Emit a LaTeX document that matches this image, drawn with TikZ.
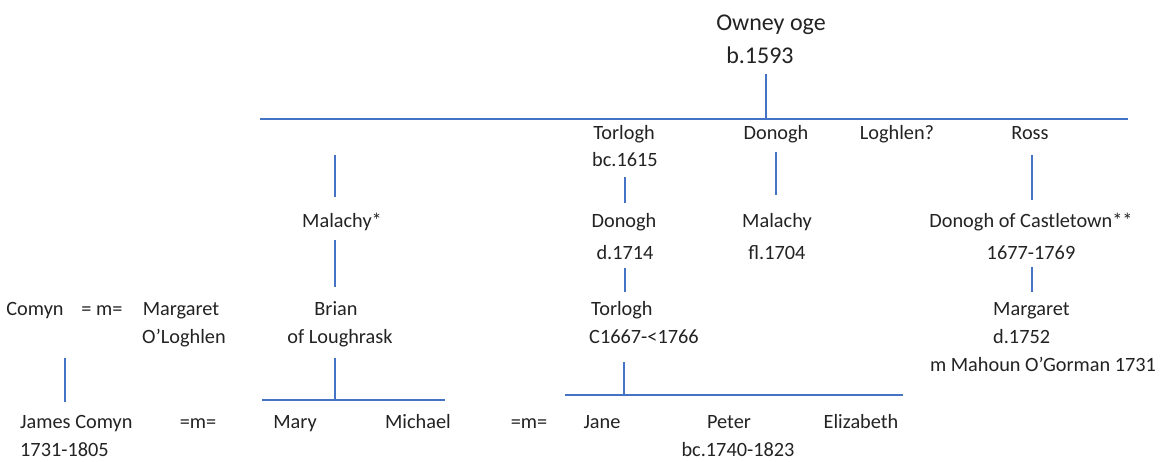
\documentclass[tikz,border=0pt]{standalone}
\usepackage{fontspec}
\setmainfont{Carlito}
\definecolor{linkblue}{RGB}{68,114,196}
\definecolor{txt}{RGB}{35,35,35}
\begin{document}
\begin{tikzpicture}[x=1pt,y=-1pt,
  lbl/.style={anchor=base,inner sep=0pt,text=txt,font=\fontsize{20.3}{23}\selectfont},
  lblL/.style={lbl,anchor=base west},
  big/.style={anchor=base,inner sep=0pt,text=txt,font=\fontsize{24}{28}\selectfont},
  link/.style={draw=linkblue,line width=1.1pt}]
\useasboundingbox[fill=white] (0,0) rectangle (1163,461);
% generation 1
\node[big] (owney) at (771,30) {Owney oge};
\node[big] (owneyb) at (760,63) {b.1593};
% generation 2
\node[lbl] (torlogh1) at (624,139) {Torlogh};
\node[lbl] (torlogh1b) at (625,166) {bc.1615};
\node[lbl] (donogh1) at (776,139) {Donogh};
\node[lbl] (loghlen) at (897,139) {Loghlen?};
\node[lbl] (ross) at (1030,139) {Ross};
% generation 3
\node[lbl] (malachy1) at (342,227) {Malachy*};
\node[lbl] (donogh2) at (624,227) {Donogh};
\node[lbl] (donogh2b) at (625,259) {d.1714};
\node[lbl] (malachy2) at (777,227) {Malachy};
\node[lbl] (malachy2b) at (777,259) {fl.1704};
\node[lbl] (castle) at (1031,227) {Donogh of Castletown**};
\node[lbl] (castleb) at (1031,259) {1677-1769};
% generation 4
\node[lbl] (comyn) at (35,315) {Comyn};
\node[lbl] (m1) at (102,315) {= m=};
\node[lbl] (marg1) at (181,315) {Margaret};
\node[lbl] (marg1b) at (184,343) {O’Loghlen};
\node[lbl] (brian) at (336,315) {Brian};
\node[lbl] (brianb) at (340,343) {of Loughrask};
\node[lblL] (torlogh2) at (591,315) {Torlogh};
\node[lblL] (torlogh2b) at (589,343) {C1667-<1766};
\node[lblL] (marg2) at (993,315) {Margaret};
\node[lblL] (marg2b) at (993,343) {d.1752};
\node[lbl] (marg2c) at (1043,371) {m Mahoun O’Gorman 1731};
% generation 5
\node[lblL] (james) at (20,428) {James Comyn};
\node[lblL] (jamesb) at (20,456) {1731-1805};
\node[lbl] (m2) at (198,428) {=m=};
\node[lbl] (mary) at (295,428) {Mary};
\node[lbl] (michael) at (418,428) {Michael};
\node[lbl] (m3) at (529,428) {=m=};
\node[lbl] (jane) at (602,428) {Jane};
\node[lbl] (peter) at (729,428) {Peter};
\node[lbl] (peterb) at (738,456) {bc.1740-1823};
\node[lbl] (eliz) at (861,428) {Elizabeth};
% connector end points
\coordinate (o1) at (766,74);
\coordinate (o2) at (766,119);
\coordinate (bar1L) at (260,119);
\coordinate (bar1R) at (1128,119);
\coordinate (ma1) at (335,155);
\coordinate (ma2) at (335,197);
\coordinate (t1) at (625,177);
\coordinate (t2) at (625,203);
\coordinate (d1) at (776,152);
\coordinate (d2) at (776,195);
\coordinate (r1) at (1032,155);
\coordinate (r2) at (1032,200);
\coordinate (ma3) at (335,240);
\coordinate (ma4) at (335,287);
\coordinate (dn1) at (625,268);
\coordinate (dn2) at (625,292);
\coordinate (dc1) at (1032,267);
\coordinate (dc2) at (1032,292);
\coordinate (cm1) at (65,358);
\coordinate (cm2) at (65,402);
\coordinate (br1) at (335,358);
\coordinate (br2) at (335,400);
\coordinate (bar2L) at (262,400);
\coordinate (bar2R) at (445,400);
\coordinate (tg1) at (624,362);
\coordinate (tg2) at (624,395);
\coordinate (bar3L) at (565,395);
\coordinate (bar3R) at (903,395);
% connectors
\draw[link] (o1) -- (o2);
\draw[link] (bar1L) -- (bar1R);
\draw[link] (ma1) -- (ma2);
\draw[link] (t1) -- (t2);
\draw[link] (d1) -- (d2);
\draw[link] (r1) -- (r2);
\draw[link] (ma3) -- (ma4);
\draw[link] (dn1) -- (dn2);
\draw[link] (dc1) -- (dc2);
\draw[link] (cm1) -- (cm2);
\draw[link] (br1) -- (br2);
\draw[link] (bar2L) -- (bar2R);
\draw[link] (tg1) -- (tg2);
\draw[link] (bar3L) -- (bar3R);
\end{tikzpicture}
\end{document}
